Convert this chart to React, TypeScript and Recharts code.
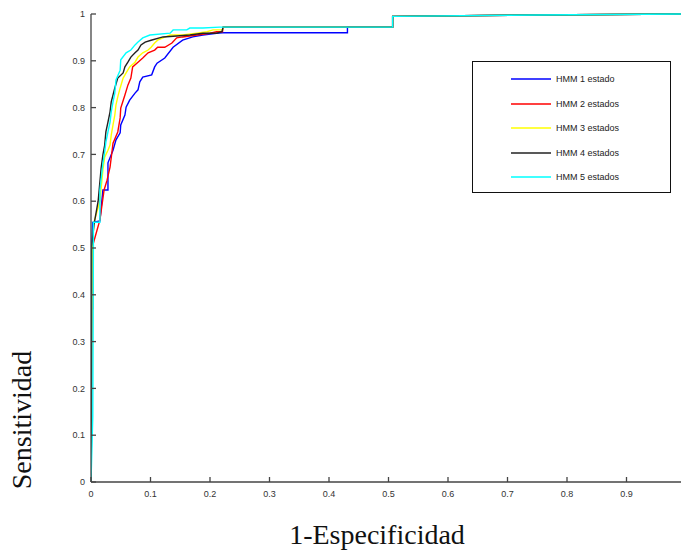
import { Legend, Line, LineChart, XAxis, YAxis } from "recharts";

type Pt = [number, number];

// ROC points: [1-especificidad, sensitividad]
const tail: Pt[] = [
  [0.222, 0.972],
  [0.507, 0.972],
  [0.507, 0.995],
  [0.75, 0.998],
  [1, 1],
];

const hmm1: Pt[] = [
  [0, 0], [0.001, 0.14], [0.001, 0.5], [0.003, 0.555], [0.015, 0.558],
  [0.02, 0.624], [0.0285, 0.624], [0.0285, 0.682], [0.037, 0.709],
  [0.042, 0.731], [0.049, 0.746], [0.05, 0.763], [0.057, 0.784],
  [0.059, 0.801], [0.065, 0.816], [0.074, 0.831], [0.079, 0.838],
  [0.082, 0.855], [0.087, 0.865], [0.102, 0.87], [0.107, 0.887],
  [0.111, 0.895], [0.124, 0.906], [0.138, 0.929], [0.154, 0.944],
  [0.171, 0.951], [0.188, 0.955], [0.211, 0.959], [0.221, 0.96],
  [0.431, 0.96], [0.431, 0.972], ...tail.slice(1),
];

const hmm2: Pt[] = [
  [0, 0], [0.002, 0.37], [0.003, 0.37], [0.003, 0.506], [0.015, 0.56],
  [0.022, 0.624], [0.027, 0.645], [0.032, 0.673], [0.035, 0.703],
  [0.037, 0.724], [0.045, 0.748], [0.049, 0.778], [0.05, 0.799],
  [0.057, 0.827], [0.062, 0.848], [0.067, 0.863], [0.07, 0.887],
  [0.079, 0.897], [0.087, 0.906], [0.096, 0.917], [0.107, 0.923],
  [0.112, 0.929], [0.124, 0.929], [0.136, 0.938], [0.144, 0.949],
  [0.154, 0.951], [0.178, 0.955], [0.2, 0.959], [0.211, 0.962],
  [0.221, 0.962], ...tail,
];

const hmm3: Pt[] = [
  [0, 0], [0.002, 0.5], [0.005, 0.555], [0.015, 0.6], [0.02, 0.667],
  [0.023, 0.694], [0.0285, 0.709], [0.032, 0.72], [0.034, 0.741],
  [0.037, 0.763], [0.04, 0.784], [0.042, 0.806], [0.045, 0.823],
  [0.049, 0.842], [0.054, 0.863], [0.059, 0.874], [0.065, 0.887],
  [0.074, 0.897], [0.079, 0.908], [0.087, 0.917], [0.096, 0.923],
  [0.101, 0.929], [0.107, 0.938], [0.112, 0.944], [0.121, 0.949],
  [0.133, 0.955], [0.154, 0.955], [0.178, 0.959], [0.195, 0.962],
  [0.205, 0.966], [0.221, 0.966], ...tail,
];

const hmm4: Pt[] = [
  [0, 0], [0.001, 0.5], [0.005, 0.55], [0.012, 0.6], [0.017, 0.67],
  [0.02, 0.699], [0.023, 0.72], [0.025, 0.748], [0.0285, 0.769],
  [0.032, 0.791], [0.034, 0.812], [0.037, 0.827], [0.04, 0.842],
  [0.045, 0.863], [0.054, 0.874], [0.057, 0.887], [0.062, 0.897],
  [0.067, 0.908], [0.074, 0.917], [0.079, 0.923], [0.084, 0.934],
  [0.091, 0.94], [0.101, 0.944], [0.121, 0.951], [0.144, 0.953],
  [0.166, 0.955], [0.188, 0.959], [0.211, 0.959], [0.22, 0.962], ...tail,
];

const hmm5: Pt[] = [
  [0, 0], [0.003, 0.14], [0.004, 0.5], [0.004, 0.555], [0.015, 0.555],
  [0.015, 0.624], [0.02, 0.68], [0.023, 0.705], [0.025, 0.726],
  [0.0285, 0.748], [0.032, 0.769], [0.034, 0.791], [0.037, 0.812],
  [0.04, 0.831], [0.042, 0.859], [0.049, 0.88], [0.05, 0.902],
  [0.059, 0.917], [0.067, 0.923], [0.074, 0.934], [0.079, 0.94],
  [0.087, 0.949], [0.099, 0.955], [0.133, 0.959], [0.138, 0.966],
  [0.161, 0.966], [0.166, 0.97], [0.188, 0.97], [0.216, 0.972], ...tail,
];

const seriesNames = [
  "HMM 1 estado",
  "HMM 2 estados",
  "HMM 3 estados",
  "HMM 4 estados",
  "HMM 5 estados",
];
const seriesColors = ["#0000ff", "#ff0000", "#ffff00", "#222222", "#00ffff"];
const seriesPoints = [hmm1, hmm2, hmm3, hmm4, hmm5];

const axisTicks = [0, 0.1, 0.2, 0.3, 0.4, 0.5, 0.6, 0.7, 0.8, 0.9, 1];
// the "1" label of the x axis falls outside the cropped picture
const xLabelTicks = [0, 0.1, 0.2, 0.3, 0.4, 0.5, 0.6, 0.7, 0.8, 0.9];

const tickStyle = { fill: "#333", fontSize: 9, fontFamily: "Liberation Sans, Arial, sans-serif" };
const axisColor = "#444";

function RocLegend() {
  return (
    <div
      style={{
        width: 197,
        height: 130,
        border: "1px solid #111",
        background: "#fff",
        position: "relative",
        fontFamily: "Liberation Sans, Arial, sans-serif",
        fontSize: 9,
        color: "#222",
      }}
    >
      {seriesNames.map((name, i) => (
        <div
          key={name}
          style={{
            position: "absolute",
            left: 38,
            top: Math.round(17 + i * 24.5) - 6,
            height: 12,
            width: 150,
          }}
        >
          <svg
            width={40}
            height={12}
            style={{ position: "absolute", left: 0, top: 0 }}
          >
            <line
              x1={0}
              y1={6}
              x2={40}
              y2={6}
              stroke={seriesColors[i]}
              strokeWidth={1.5}
            />
          </svg>
          <span
            style={{
              position: "absolute",
              left: 45,
              top: 0,
              lineHeight: "12px",
              whiteSpace: "nowrap",
            }}
          >
            {name}
          </span>
        </div>
      ))}
    </div>
  );
}

export default function App() {
  return (
    <div
      style={{
        position: "absolute",
        left: 0,
        top: 0,
        width: 681,
        height: 550,
        overflow: "hidden",
        background: "#fff",
      }}
    >
      <LineChart
        width={700}
        height={550}
        margin={{ top: 14, right: 14, bottom: 38, left: 41 }}
      >
        <XAxis
          xAxisId={0}
          type="number"
          dataKey="x"
          domain={[0, 1]}
          ticks={xLabelTicks}
          tickFormatter={(v: number) => String(v)}
          height={30}
          stroke={axisColor}
          strokeWidth={1.3}
          tickSize={-5}
          tickMargin={14}
          tick={tickStyle}
          allowDataOverflow
        />
        <XAxis
          xAxisId="top"
          orientation="top"
          type="number"
          domain={[0, 1]}
          ticks={axisTicks}
          height={0}
          stroke={axisColor}
          strokeWidth={1.3}
          tickSize={-5}
          tick={false}
        />
        <YAxis
          yAxisId={0}
          type="number"
          domain={[0, 1]}
          ticks={axisTicks}
          tickFormatter={(v: number) => String(v)}
          width={50}
          stroke={axisColor}
          strokeWidth={1.3}
          tickSize={-5}
          tickMargin={11}
          tick={tickStyle}
        />
        <YAxis
          yAxisId="right"
          orientation="right"
          type="number"
          domain={[0, 1]}
          ticks={axisTicks}
          width={0}
          stroke={axisColor}
          strokeWidth={1.3}
          tickSize={-5}
          tick={false}
        />
        {seriesPoints.map((pts, i) => (
          <Line
            key={seriesNames[i]}
            name={seriesNames[i]}
            data={pts.map(([x, y]) => ({ x, y }))}
            dataKey="y"
            type="linear"
            stroke={seriesColors[i]}
            strokeWidth={1.4}
            dot={false}
            activeDot={false}
            isAnimationActive={false}
          />
        ))}
        <Legend
          layout="vertical"
          align="center"
          verticalAlign="middle"
          wrapperStyle={{ left: 472, top: 61, width: 199, height: 132 }}
          content={() => <RocLegend />}
        />
      </LineChart>
      <div
        style={{
          position: "absolute",
          left: 227,
          top: 519,
          width: 300,
          textAlign: "center",
          fontFamily: "Liberation Serif, serif",
          fontSize: 28,
          color: "#111",
          lineHeight: "32px",
        }}
      >
        1-Especificidad
      </div>
      <div
        style={{
          position: "absolute",
          left: 22,
          top: 420,
          transform: "translate(-50%, -50%) rotate(-90deg)",
          fontFamily: "Liberation Serif, serif",
          fontSize: 28,
          color: "#111",
          whiteSpace: "nowrap",
          lineHeight: "32px",
        }}
      >
        Sensitividad
      </div>
    </div>
  );
}
